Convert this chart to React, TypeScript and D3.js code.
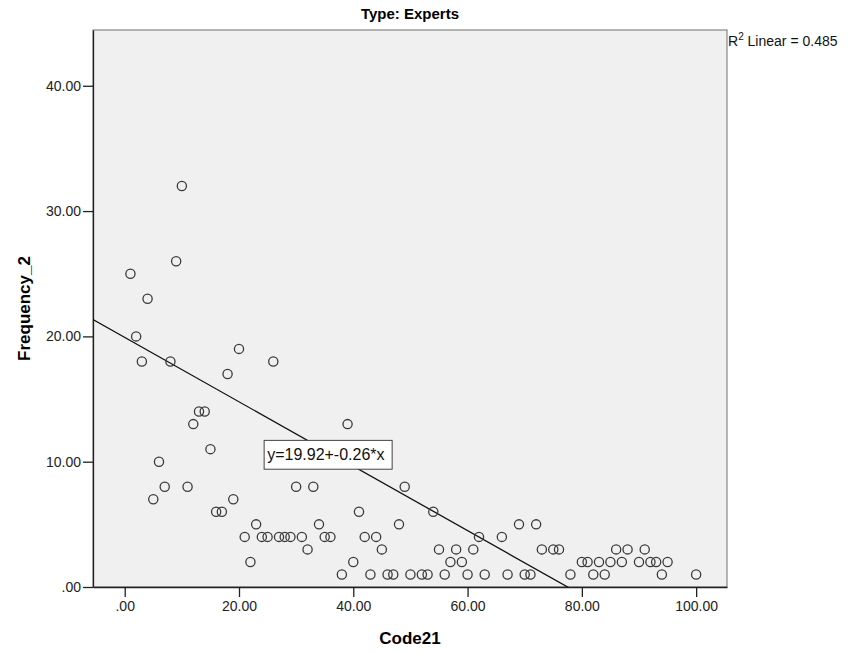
import React, { useRef, useEffect } from 'react';
import * as d3 from 'd3';

// Code21 values and matching Frequency_2 values (Type: Experts)
const code21 = [
  1, 2, 3, 4, 5, 6, 7, 8, 9, 10, 11, 12, 13, 14, 15, 16, 17, 18, 19, 20,
  21, 22, 23, 24, 25, 26, 27, 28, 29, 30, 31, 32, 33, 34, 35, 36, 38, 39, 40,
  41, 42, 43, 44, 45, 46, 47, 48, 49, 50, 52, 53, 54, 55, 56, 57, 58, 59, 60,
  61, 62, 63, 66, 67, 69, 70, 71, 72, 73, 75, 76, 78, 80, 81, 82, 83, 84, 85,
  86, 87, 88, 90, 91, 92, 93, 94, 95, 100,
];
const frequency2 = [
  25, 20, 18, 23, 7, 10, 8, 18, 26, 32, 8, 13, 14, 14, 11, 6, 6, 17, 7, 19,
  4, 2, 5, 4, 4, 18, 4, 4, 4, 8, 4, 3, 8, 5, 4, 4, 1, 13, 2,
  6, 4, 1, 4, 3, 1, 1, 5, 8, 1, 1, 1, 6, 3, 1, 2, 3, 2, 1,
  3, 4, 1, 4, 1, 5, 1, 1, 5, 3, 3, 3, 1, 2, 2, 1, 2, 1, 2,
  3, 2, 3, 2, 3, 2, 2, 1, 2, 1,
];

const xTicks = [0, 20, 40, 60, 80, 100];
const xTickLabels = ['.00', '20.00', '40.00', '60.00', '80.00', '100.00'];
const yTicks = [0, 10, 20, 30, 40];
const yTickLabels = ['.00', '10.00', '20.00', '30.00', '40.00'];

// linear fit
const intercept = 19.92;
const slope = -0.257;
const rSquared = '0.485';
const fitLabel = 'y=19.92+-0.26*x';

const FONT = '"Liberation Sans", Arial, sans-serif';

const App = () => {
  const ref = useRef(null);

  useEffect(() => {
    const root = d3.select(ref.current);
    root.selectAll('*').remove();

    const W = 848;
    const H = 652;
    const plot = { left: 93, right: 727, top: 30, bottom: 587 };

    const svg = root
      .append('svg')
      .attr('width', W)
      .attr('height', H)
      .style('position', 'absolute')
      .style('left', 0)
      .style('top', 0)
      .style('font-family', FONT);

    const x = d3.scaleLinear().domain([-5.55, 105.4]).range([plot.left, plot.right]);
    const y = d3.scaleLinear().domain([0, 44.45]).range([plot.bottom, plot.top]);

    svg.append('rect').attr('width', W).attr('height', H).attr('fill', '#fff');

    // plot frame
    svg
      .append('rect')
      .attr('x', plot.left)
      .attr('y', plot.top)
      .attr('width', plot.right - plot.left)
      .attr('height', plot.bottom - plot.top)
      .attr('fill', '#f0f0f0')
      .attr('stroke', '#6e6e6e')
      .attr('stroke-width', 1);

    svg
      .append('text')
      .attr('x', (plot.left + plot.right) / 2)
      .attr('y', 19)
      .attr('text-anchor', 'middle')
      .attr('font-size', 15)
      .attr('font-weight', 'bold')
      .text('Type: Experts');

    // axes
    const xAxis = svg
      .append('g')
      .attr('transform', `translate(0, ${plot.bottom})`)
      .call(
        d3
          .axisBottom(x)
          .tickValues(xTicks)
          .tickSizeInner(10)
          .tickSizeOuter(0)
          .tickPadding(4)
          .tickFormat((d, i) => xTickLabels[i])
      );
    const yAxis = svg
      .append('g')
      .attr('transform', `translate(${plot.left}, 0)`)
      .call(
        d3
          .axisLeft(y)
          .tickValues(yTicks)
          .tickSizeInner(10)
          .tickSizeOuter(0)
          .tickPadding(2)
          .tickFormat((d, i) => yTickLabels[i])
      );
    [xAxis, yAxis].forEach((g) => {
      g.select('.domain').attr('stroke', '#222').attr('stroke-width', 1.3);
      g.selectAll('.tick line').attr('stroke', '#222').attr('stroke-width', 1.3);
      g.selectAll('.tick text')
        .attr('fill', '#222')
        .attr('font-size', 14)
        .attr('font-family', FONT);
    });

    svg
      .append('text')
      .attr('x', (plot.left + plot.right) / 2)
      .attr('y', 644)
      .attr('text-anchor', 'middle')
      .attr('font-size', 17)
      .attr('font-weight', 'bold')
      .text('Code21');

    svg
      .append('text')
      .attr('transform', `translate(30, ${(plot.top + plot.bottom) / 2}) rotate(-90)`)
      .attr('text-anchor', 'middle')
      .attr('font-size', 17)
      .attr('font-weight', 'bold')
      .text('Frequency_2');

    // clip for the fit line
    svg
      .append('clipPath')
      .attr('id', 'plot-clip')
      .append('rect')
      .attr('x', plot.left)
      .attr('y', plot.top)
      .attr('width', plot.right - plot.left)
      .attr('height', plot.bottom - plot.top);

    const [x0, x1] = x.domain();
    svg
      .append('line')
      .attr('clip-path', 'url(#plot-clip)')
      .attr('x1', x(x0))
      .attr('y1', y(intercept + slope * x0))
      .attr('x2', x(x1))
      .attr('y2', y(intercept + slope * x1))
      .attr('stroke', '#111')
      .attr('stroke-width', 1.3);

    // points
    svg
      .append('g')
      .selectAll('circle')
      .data(code21.map((c, i) => ({ c, f: frequency2[i] })))
      .enter()
      .append('circle')
      .attr('cx', (d) => x(d.c))
      .attr('cy', (d) => y(d.f))
      .attr('r', 4.6)
      .attr('fill', 'none')
      .attr('stroke', '#3a3a3a')
      .attr('stroke-width', 1.3);

    // fit equation label
    const lx = x(24.4);
    const ly = y(11.7);
    svg
      .append('rect')
      .attr('x', lx)
      .attr('y', ly)
      .attr('width', x(46.8) - lx)
      .attr('height', y(9.4) - ly)
      .attr('fill', '#fff')
      .attr('stroke', '#444')
      .attr('stroke-width', 1);
    svg
      .append('text')
      .attr('x', lx + 3)
      .attr('y', ly + 20)
      .attr('font-size', 16)
      .attr('fill', '#111')
      .text(fitLabel);

    // R squared
    const r2 = svg
      .append('text')
      .attr('x', plot.right + 1)
      .attr('y', 46)
      .attr('font-size', 14)
      .attr('fill', '#111');
    r2.append('tspan').text('R');
    r2.append('tspan').attr('font-size', 10).attr('dy', -6).text('2');
    r2.append('tspan').attr('dy', 6).text(` Linear = ${rSquared}`);
  }, []);

  return <div ref={ref}></div>;
};

export default App;
